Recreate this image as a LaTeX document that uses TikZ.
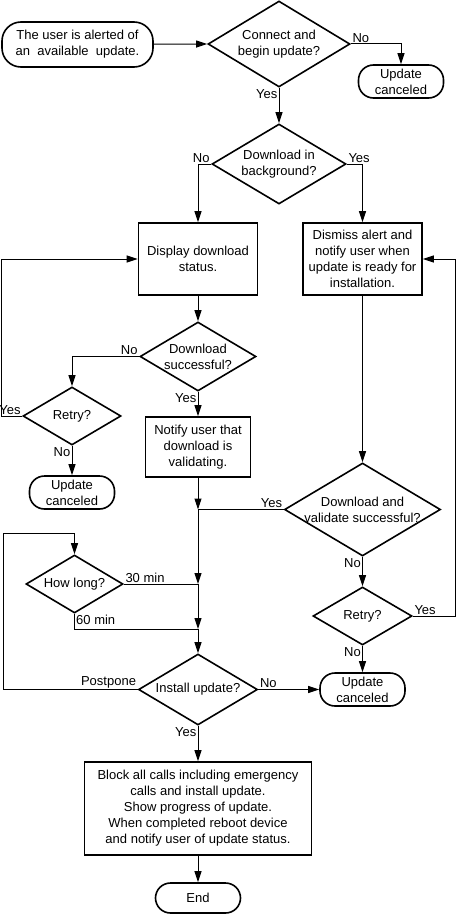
\documentclass[tikz,border=0pt]{standalone}
\usepackage{fontspec}
\setmainfont{Liberation Sans}
\usetikzlibrary{shapes.geometric,arrows.meta}
\begin{document}
\begin{tikzpicture}[x=1pt,y=-1pt,
  every node/.style={font=\fontsize{13}{16}\selectfont, inner sep=0pt},
  shp/.style={draw, line width=1.6pt, align=center},
  term/.style={shp, rounded corners=15pt},
  proc/.style={shp, rectangle},
  dia/.style={shp, diamond},
  lbl/.style={inner sep=1.5pt},
  con/.style={line width=1pt},
  arr/.style={con, -{Triangle[length=11pt,width=7pt]}}]
\useasboundingbox (0,0) rectangle (456,915);
% nodes
\node[term, minimum width=151pt, minimum height=45pt, rounded corners=19pt] (start) at (77.5,44.5) {The user is alerted of\\an\ \ available\ \ update.};
\node[dia, minimum width=142pt, minimum height=86pt, label={[align=center]center:Connect and\\begin update?}] (d1) at (279,44) {};
\node[term, minimum width=85pt, minimum height=33pt] (uc1) at (401,81.5) {Update\\canceled};
\node[dia, minimum width=134pt, minimum height=80pt, label={[align=center]center:Download in\\background?}] (d2) at (279,164) {};
\node[proc, minimum width=119pt, minimum height=72pt] (disp) at (198,259) {Display download\\status.};
\node[proc, minimum width=119pt, minimum height=72pt] (dism) at (362.5,259) {Dismiss alert and\\notify user when\\update is ready for\\installation.};
\node[dia, minimum width=116pt, minimum height=69pt, label={[align=center]center:Download\\successful?}] (d3) at (198,356.5) {};
\node[dia, minimum width=98pt, minimum height=58pt, label={center:Retry?}] (r1) at (72,416) {};
\node[proc, minimum width=105pt, minimum height=60pt] (notify) at (198,447) {Notify user that\\download is\\validating.};
\node[term, minimum width=85pt, minimum height=33pt] (uc2) at (72,492.5) {Update\\canceled};
\node[dia, minimum width=156pt, minimum height=93pt, label={[align=center]center:Download and\\validate successful?}] (d4) at (362.5,509.5) {};
\node[dia, minimum width=97pt, minimum height=58pt, label={center:How long?}] (hl) at (74.5,584) {};
\node[dia, minimum width=99pt, minimum height=58pt, label={center:Retry?}] (r2) at (362.5,616) {};
\node[term, minimum width=85pt, minimum height=33pt] (uc3) at (362.5,689.5) {Update\\canceled};
\node[dia, minimum width=119pt, minimum height=71pt, label={center:Install update?}] (inst) at (198,689.5) {};
\node[proc, minimum width=227pt, minimum height=93pt] (block) at (198,808.5) {Block all calls including emergency\\calls and install update.\\Show progress of update.\\When completed reboot device\\and notify user of update status.};
\node[term, minimum width=85pt, minimum height=30pt] (end) at (198,898) {End};
% helper coordinates
\coordinate (L) at (1.5,0);
\coordinate (R) at (455,0);
\coordinate (T) at (3,533);
\coordinate (j1) at (198,509.5);
\coordinate (j2) at (198,584);
\coordinate (j3) at (198,629);
% labels
\node[lbl, anchor=south west] (l1) at (d1.east) {No};
\node[lbl, anchor=north east] (l2) at (d1.south) {Yes};
\node[lbl, anchor=south east] (l3) at (d2.west) {No};
\node[lbl, anchor=south west] (l4) at (d2.east) {Yes};
\node[lbl, anchor=south east] (l5) at (d3.west) {No};
\node[lbl, anchor=north east] (l6) at (d3.south) {Yes};
\node[lbl, anchor=south east] (l7) at (r1.west) {Yes};
\node[lbl, anchor=north east] (l8) at (r1.south) {No};
\node[lbl, anchor=south east] (l9) at (d4.west) {Yes};
\node[lbl, anchor=north east] (l10) at (d4.south) {No};
\node[lbl, anchor=south west] (l11) at (r2.east) {Yes};
\node[lbl, anchor=north east] (l12) at (r2.south) {No};
\node[lbl, anchor=south west] (l13) at (hl.east) {30 min};
\node[lbl, anchor=north west] (l14) at (hl.south) {60 min};
\node[lbl, anchor=south east] (l15) at (inst.west) {Postpone};
\node[lbl, anchor=south west] (l16) at (inst.east) {No};
\node[lbl, anchor=north east] (l17) at (inst.south) {Yes};
% connectors
\draw[arr] (start) -- (d1.west);
\draw[arr] (d1.east) -| (uc1.north);
\draw[arr] (d1.south) -- (d2.north);
\draw[arr] (d2.west) -| (disp.north);
\draw[arr] (d2.east) -| (dism.north);
\draw[arr] (disp.south) -- (d3.north);
\draw[arr] (d3.west) -| (r1.north);
\draw[arr] (d3.south) -- (notify.north);
\draw[arr] (r1.south) -- (uc2.north);
\draw[arr] (r1.west) -- (r1.west -| L) |- (disp.west);
\draw[arr] (dism.south) -- (d4.north);
\draw[arr] (notify.south) -- (j1);
\draw[con] (d4.west) -- (j1);
\draw[arr] (j1) -- (j2);
\draw[con] (hl.east) -- (j2);
\draw[arr] (j2) -- (j3);
\draw[con] (hl.south) |- (j3);
\draw[arr] (j3) -- (inst.north);
\draw[arr] (d4.south) -- (r2.north);
\draw[arr] (r2.south) -- (uc3.north);
\draw[arr] (r2.east) -- (r2.east -| R) |- (dism.east);
\draw[arr] (inst.east) -- (uc3.west);
\draw[arr] (inst.west) -| (T) -| (hl.north);
\draw[arr] (inst.south) -- (block.north);
\draw[arr] (block.south) -- (end.north);
\end{tikzpicture}
\end{document}
